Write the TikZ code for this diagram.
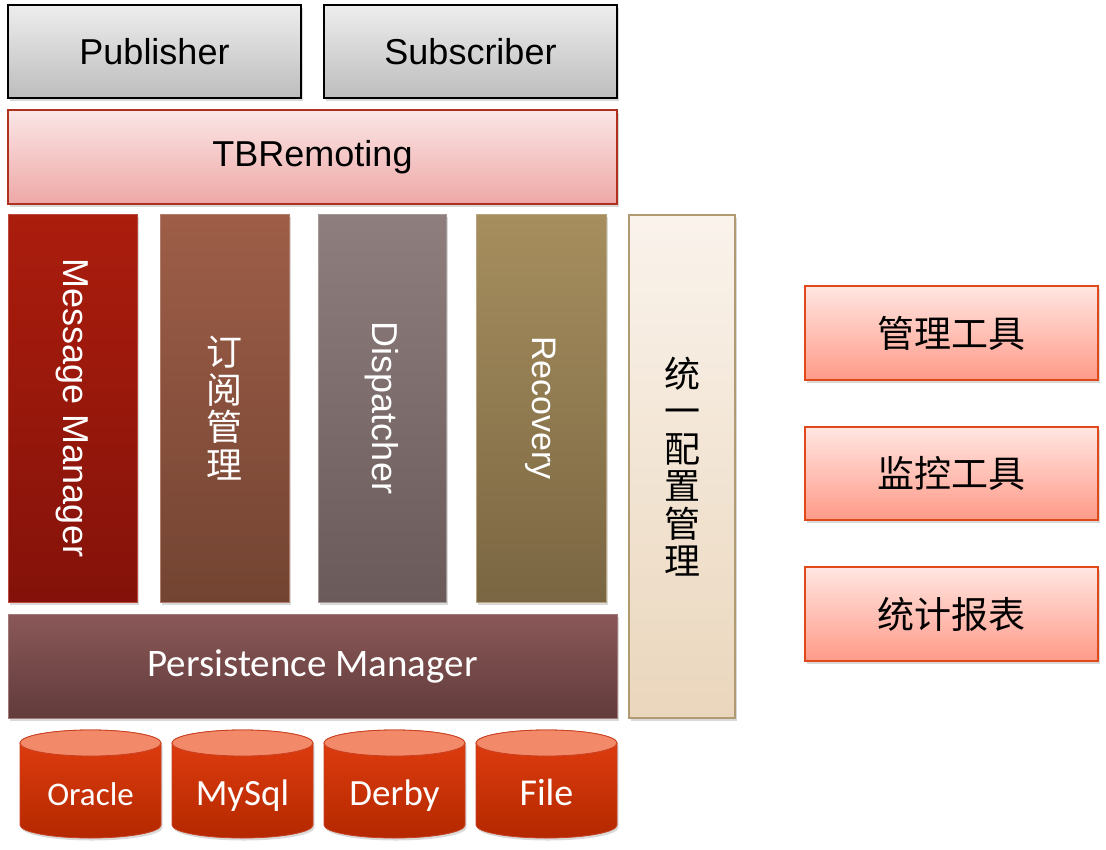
\documentclass[tikz,border=0pt]{standalone}
\usepackage{fontspec}
\setmainfont{Liberation Sans}
\newfontfamily\calib{Carlito}
\newfontfamily\cjk{Noto Sans CJK SC}
\usetikzlibrary{shadows}

\definecolor{clientTop}{HTML}{EDEDED}
\definecolor{clientBot}{HTML}{BDBDBD}
\definecolor{remTop}{HTML}{FBE6E6}
\definecolor{remBot}{HTML}{EDA8A6}
\definecolor{remLine}{HTML}{B0301E}
\definecolor{msgTop}{HTML}{AB1D0D}
\definecolor{msgBot}{HTML}{84120A}
\definecolor{subTop}{HTML}{9E5E48}
\definecolor{subBot}{HTML}{734432}
\definecolor{dispTop}{HTML}{8E7E7E}
\definecolor{dispBot}{HTML}{6A5A5A}
\definecolor{recTop}{HTML}{A68E5E}
\definecolor{recBot}{HTML}{7A6642}
\definecolor{confTop}{HTML}{FAF3EC}
\definecolor{confBot}{HTML}{EAD6BC}
\definecolor{confLine}{HTML}{B09A72}
\definecolor{persTop}{HTML}{8A5858}
\definecolor{persBot}{HTML}{623B3B}
\definecolor{dbTop}{HTML}{E23E10}
\definecolor{dbBot}{HTML}{B42800}
\definecolor{dbCap}{HTML}{F28A6A}
\definecolor{dbLine}{HTML}{C84020}
\definecolor{toolTop}{HTML}{FFE6E2}
\definecolor{toolBot}{HTML}{FF9A88}
\definecolor{toolLine}{HTML}{E04A1A}

\begin{document}
\begin{tikzpicture}[x=1pt,y=-1pt,
    box/.style={rectangle,inner sep=0pt,line width=1.5pt,
      drop shadow={shadow xshift=1.5pt,shadow yshift=-2.5pt,opacity=0.3}},
    client/.style={box,draw=black,top color=clientTop,bottom color=clientBot,
      minimum width=293pt,minimum height=93pt,font=\fontsize{36}{42}\selectfont},
    column/.style={box,line width=0.8pt,minimum width=129pt,minimum height=388pt,
      text=white,font=\fontsize{36}{42}\selectfont},
    tool/.style={box,draw=toolLine,top color=toolTop,bottom color=toolBot,
      minimum width=293pt,minimum height=94pt,font=\cjk\fontsize{37}{42}\selectfont},
    dblabel/.style={text=white,inner sep=0pt,anchor=base}]
	\useasboundingbox (0,0) rectangle (1106,849);

	% clients
	\node[client] (pub) at (154.5,51.5) {Publisher};
	\node[client] (subr) at (470.5,51.5) {Subscriber};

	% remoting layer
	\node[box,draw=remLine,top color=remTop,bottom color=remBot,
		minimum width=609pt,minimum height=94pt,
		font=\fontsize{36}{42}\selectfont] (tbr) at (312.5,157) {TBRemoting};

	% core modules
	\node[column,draw=msgTop!80!white,top color=msgTop,bottom color=msgBot] (msg) at (72.5,408)
		{\rotatebox{-90}{Message Manager}};
	\node[column,draw=subTop!80!white,top color=subTop,bottom color=subBot,align=center,
		font=\cjk\fontsize{36}{37.5}\selectfont] (subm) at (224.5,408) {订\\阅\\管\\理};
	\node[column,draw=dispTop!80!white,top color=dispTop,bottom color=dispBot,
		minimum width=128pt] (disp) at (382,408) {\rotatebox{-90}{Dispatcher}};
	\node[column,draw=recTop!80!white,top color=recTop,bottom color=recBot,
		minimum width=130pt,font=\fontsize{34}{40}\selectfont] (rec) at (541,408) {\rotatebox{-90}{Recovery}};

	% config
	\node[box,draw=confLine,top color=confTop,bottom color=confBot,
		minimum width=106pt,minimum height=503pt,align=center,
		font=\cjk\fontsize{36}{37.5}\selectfont] (conf) at (682,466.5) {统\\一\\配\\置\\管\\理};

	% persistence
	\node[box,line width=0.8pt,draw=persTop!80!white,top color=persTop,bottom color=persBot,
		minimum width=609pt,minimum height=104pt,text=white,
		font=\calib\fontsize{39}{44}\selectfont] (pers) at (312.5,666) {Persistence Manager};

	% storage
	\foreach \x/\nm/\lbl/\fs in {20/ora/Oracle/33,172/mysql/MySql/37,324/derby/Derby/37,476/file/File/38}{
		\path[draw=dbLine,line width=0.8pt,top color=dbTop,bottom color=dbBot,
			drop shadow={shadow xshift=1.5pt,shadow yshift=-2.5pt,opacity=0.3}]
			(\x,743) -- (\x,825) arc (180:0:70.5 and 13) -- (\x+141,743) arc (0:-180:70.5 and 13) -- cycle;
		\draw[dbLine,line width=0.8pt,fill=dbCap] (\x+70.5,743) ellipse [x radius=70.5,y radius=13];
		\node[dblabel,font=\calib\fontsize{\fs}{\fs}\selectfont] (\nm) at (\x+70.5,805) {\lbl};
	}

	% tools
	\node[tool] (admin) at (951.5,333) {管理工具};
	\node[tool,minimum height=93pt] (mon) at (951.5,473.5) {监控工具};
	\node[tool] (stat) at (951.5,614) {统计报表};
\end{tikzpicture}
\end{document}
